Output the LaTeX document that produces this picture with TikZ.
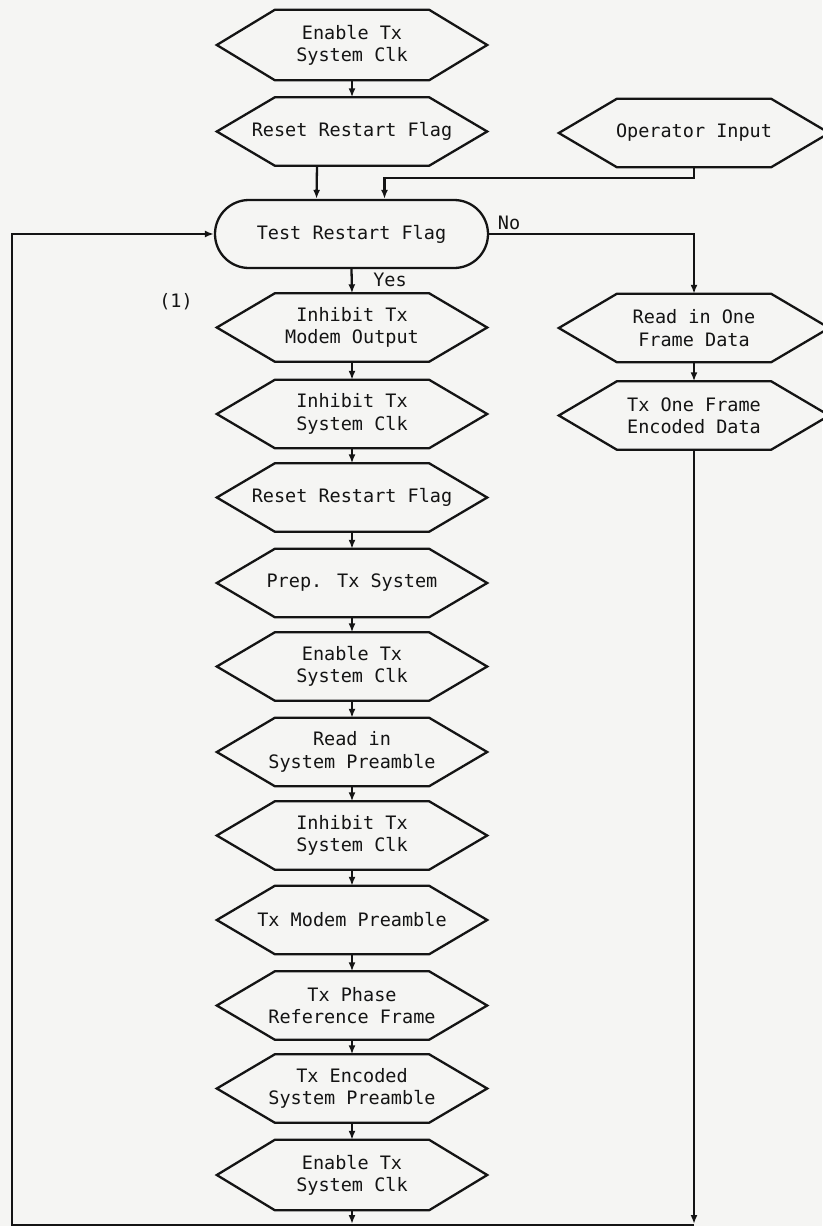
\documentclass[tikz,border=0pt]{standalone}
\usepackage{fontspec}
\newfontfamily\flowfont{DejaVu Sans Mono}
\usetikzlibrary{arrows.meta}
\definecolor{paper}{RGB}{245,245,243}
\definecolor{ink}{RGB}{20,20,20}

\begin{document}
\begin{tikzpicture}[x=1pt,y=-1pt,
  every node/.style={font=\flowfont\fontsize{18.5}{22.3}\selectfont, text=ink},
  hexbox/.style={rectangle, minimum width=270pt, minimum height=68pt, inner sep=0pt, align=center},
  stadium/.style={rectangle, rounded corners=34pt, draw=ink, line width=2.3pt,
    minimum width=273pt, minimum height=68pt, inner sep=0pt, align=center},
  flow/.style={draw=ink, line width=2.3pt},
  arr/.style={flow, -{Latex[length=9pt,width=7pt]}},
  lbl/.style={inner sep=0pt}
]
\fill[paper] (0,0) rectangle (822,1226);
\useasboundingbox (0,0) rectangle (822,1226);

% start-up
\node[hexbox, minimum height=70pt] (b1) at (352,45) {Enable Tx\\System Clk};
\node[hexbox] (b2) at (352,131.5) {Reset Restart Flag};
\node[hexbox] (op) at (694,133) {Operator Input};
\node[stadium] (test) at (351.5,234) {Test Restart Flag};

% restart sequence
\node[hexbox] (c1) at (352,327.5) {Inhibit Tx\\Modem Output};
\node[hexbox] (c2) at (352,414) {Inhibit Tx\\System Clk};
\node[hexbox] (c3) at (352,497.5) {Reset Restart Flag};
\node[hexbox] (c4) at (352,583) {Prep. Tx System};
\node[hexbox] (c5) at (352,666.5) {Enable Tx\\System Clk};
\node[hexbox] (c6) at (352,752) {Read in\\System Preamble};
\node[hexbox] (c7) at (352,835.5) {Inhibit Tx\\System Clk};
\node[hexbox] (c8) at (352,920) {Tx Modem Preamble};
\node[hexbox] (c9) at (352,1005.5) {Tx Phase\\Reference Frame};
\node[hexbox] (c10) at (352,1088.5) {Tx Encoded\\System Preamble};
\node[hexbox, minimum height=70pt] (c11) at (352,1175) {Enable Tx\\System Clk};

% normal frame branch
\node[hexbox] (r1) at (694,328) {Read in One\\Frame Data};
\node[hexbox] (r2) at (694,415.5) {Tx One Frame\\Encoded Data};

% hexagonal outlines
\foreach \n in {b1,b2,op,c1,c2,c3,c4,c5,c6,c7,c8,c9,c10,c11,r1,r2}
  \draw[flow, line join=miter] (\n.west) -- ([xshift=58pt]\n.north west)
    -- ([xshift=-58pt]\n.north east) -- (\n.east)
    -- ([xshift=-58pt]\n.south east) -- ([xshift=58pt]\n.south west) -- cycle;

% labels
\node[lbl] (yes) at (390,280) {Yes};
\node[lbl] (no) at (509,223) {No};
\node[lbl] (mark) at (176,302) {(1)};

% loop corners
\coordinate (loopbl) at (12,1225);
\coordinate (loopbr) at (694,1225);

% connectors
\draw[arr] (b1.south) -- (b2.north);
\draw[arr] ([xshift=-35pt]b2.south) -- ([xshift=-35pt]test.north);
\draw[arr] (op.south) -- ++(0,11) -| ([xshift=33pt]test.north);
\draw[arr] (test.south) -- (c1.north);
\draw[arr] (test.east) -| (r1.north);
\foreach \a/\b in {c1/c2,c2/c3,c3/c4,c4/c5,c5/c6,c6/c7,c7/c8,c8/c9,c9/c10,c10/c11,r1/r2}
  \draw[arr] (\a.south) -- (\b.north);
\draw[arr] (c11.south) -- ([yshift=1pt]c11.south |- loopbl);
\draw[arr] (r2.south) -- ([yshift=1pt]loopbr);
\draw[arr] (loopbr) -- (loopbl) |- (test.west);
\end{tikzpicture}
\end{document}
